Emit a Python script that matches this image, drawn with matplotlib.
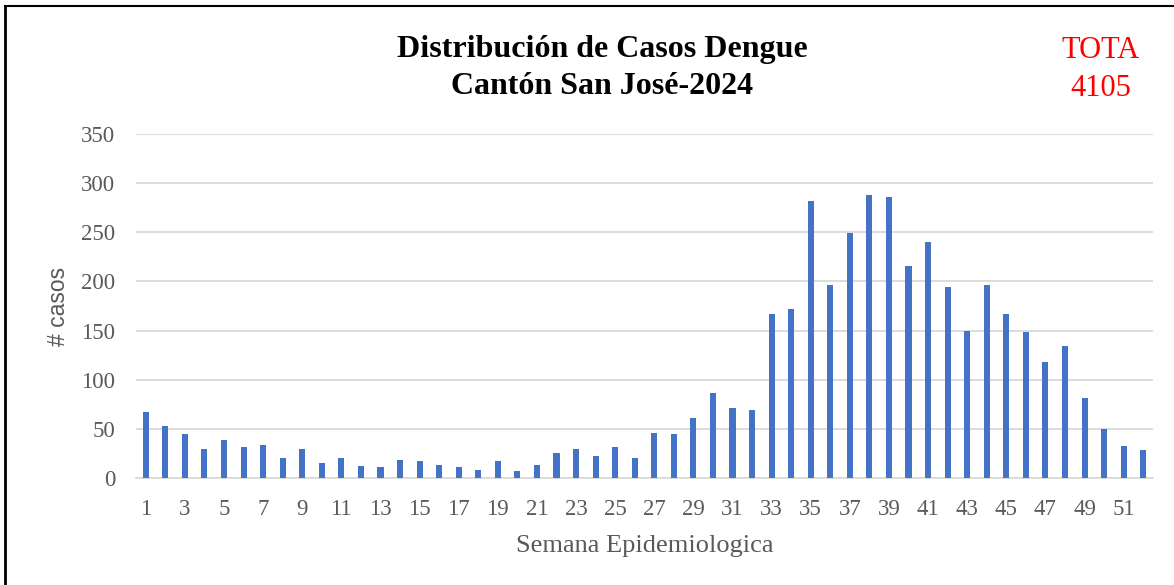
import numpy as np
import matplotlib.pyplot as plt

# Weekly dengue cases
semanas = np.arange(1, 53)
casos = [67, 53, 45, 29, 39, 32, 34, 20, 29, 15,
         20, 12, 11, 18, 17, 13, 11, 8, 17, 7,
         13, 25, 30, 22, 32, 20, 46, 45, 61, 86,
         71, 69, 167, 172, 282, 196, 249, 288, 286, 216,
         240, 194, 150, 196, 167, 149, 118, 134, 81, 50,
         33, 28]
etiquetas_x = [str(s) if s % 2 == 1 else "" for s in semanas]
total_texto = ["TOTA", "4105"]

serif = ["Liberation Serif", "DejaVu Serif"]
gris = "#595959"

fig = plt.figure(figsize=(11.74, 5.85), dpi=100)
ax = fig.add_axes([136 / 1174, 1 - 478 / 585, (1153 - 136) / 1174, (478 - 134) / 585])

ax.bar(semanas, casos, width=0.31, color="#4472C4", zorder=3)

ax.set_xlim(0.5, 52.5)
ax.set_ylim(0, 350)
ax.set_yticks(np.arange(0, 351, 50))
ax.set_xticks(semanas)
ax.set_xticklabels(etiquetas_x)

ax.grid(axis="y", color="#D9D9D9", linewidth=1.3, zorder=0)
for lado in ["top", "right", "left"]:
    ax.spines[lado].set_visible(False)
ax.spines["bottom"].set_color("#D9D9D9")
ax.spines["bottom"].set_linewidth(1.3)

ax.tick_params(axis="both", length=0, labelsize=16.5, labelcolor=gris)
ax.tick_params(axis="x", pad=15)
ax.tick_params(axis="y", pad=15)
for lbl in ax.get_xticklabels() + ax.get_yticklabels():
    lbl.set_family(serif)

ax.set_xlabel("Semana Epidemiologica", family=serif, fontsize=19, color=gris, labelpad=11)
ax.set_ylabel("# casos", family=["Liberation Sans", "DejaVu Sans"], fontsize=16.5, color=gris, labelpad=8)

fig.text(602 / 1174, 1 - 49 / 585, "Distribución de Casos Dengue", ha="center", va="center",
         family=serif, fontsize=23, fontweight="bold", color="black")
fig.text(602 / 1174, 1 - 87 / 585, "Cantón San José-2024", ha="center", va="center",
         family=serif, fontsize=23, fontweight="bold", color="black")

fig.text(1101 / 1174, 1 - 50 / 585, total_texto[0], ha="center", va="center",
         family=serif, fontsize=22, color="red")
fig.text(1101 / 1174, 1 - 88 / 585, total_texto[1], ha="center", va="center",
         family=serif, fontsize=22, color="red")

# outer border (top and left visible in the reference)
fig.add_artist(plt.Line2D([5 / 1174, 1], [1 - 6 / 585, 1 - 6 / 585], color="black", linewidth=1.5))
fig.add_artist(plt.Line2D([5 / 1174, 5 / 1174], [0, 1 - 6 / 585], color="black", linewidth=2))

fig.savefig("out.png", dpi=100)
